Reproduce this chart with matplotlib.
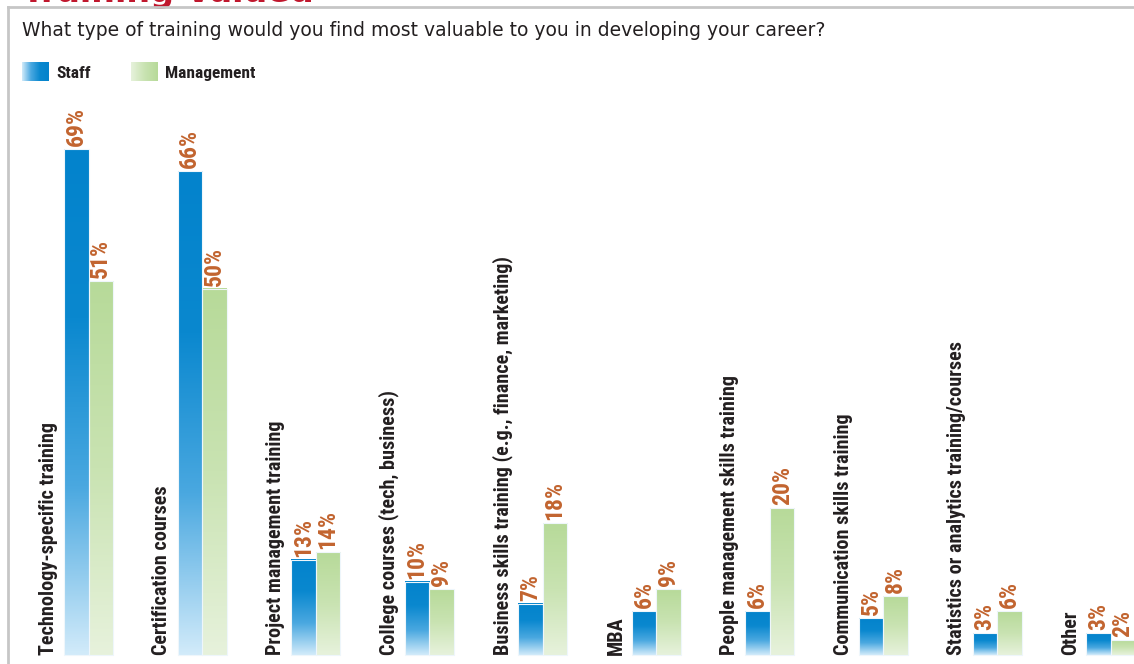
import matplotlib
matplotlib.use("Agg")
import matplotlib.pyplot as plt
import numpy as np
from matplotlib.colors import LinearSegmentedColormap

categories = [
    "Technology-specific training",
    "Certification courses",
    "Project management training",
    "College courses (tech, business)",
    "Business skills training (e.g., finance, marketing)",
    "MBA",
    "People management skills training",
    "Communication skills training",
    "Statistics or analytics training/courses",
    "Other",
]
staff = [69, 66, 13, 10, 7, 6, 6, 5, 3, 3]
management = [51, 50, 14, 9, 18, 9, 20, 8, 6, 2]

question = "What type of training would you find most valuable to you in developing your career?"
headline = "Training Valued"

NARROW = ["Roboto Condensed", "Liberation Sans Narrow", "Liberation Sans", "DejaVu Sans"]
LABEL_COLOR = "#c2642f"
TEXT_COLOR = "#231f20"

staff_cmap = LinearSegmentedColormap.from_list("staff", ["#d2ebfa", "#4aa8e0", "#0a88cf", "#0383cc"])
mgmt_cmap = LinearSegmentedColormap.from_list("mgmt", ["#e7f2dc", "#c9e3b2", "#b7da99"])
grad = np.linspace(0, 1, 256).reshape(-1, 1)

fig = plt.figure(figsize=(11.34, 6.64), dpi=100)
ax = fig.add_axes([0, 0, 1, 1])
ax.axis("off")

width = 0.216
x = np.arange(len(categories))


def gradient_bars(xs, values, cmap):
    bars = ax.bar(xs, values, width=width, align="edge", color="none",
                  edgecolor="#eef6fb", linewidth=0.8, zorder=3)
    for bar in bars:
        x0, y0 = bar.get_x(), bar.get_y()
        ax.imshow(grad, cmap=cmap, origin="lower", aspect="auto", zorder=2,
                  extent=(x0, x0 + bar.get_width(), y0, y0 + bar.get_height()))
    return bars


staff_bars = gradient_bars(x, staff, staff_cmap)
mgmt_bars = gradient_bars(x + width, management, mgmt_cmap)

for bars, values in ((staff_bars, staff), (mgmt_bars, management)):
    for bar, v in zip(bars, values):
        ax.text(bar.get_x() + bar.get_width() / 2, v + 0.4, f"{v}%",
                rotation=90, ha="center", va="bottom", fontsize=17,
                fontweight="bold", color=LABEL_COLOR, family=NARROW)

for xi, name in zip(x, categories):
    ax.text(xi - 0.14, 0, name, rotation=90, ha="center", va="bottom",
            fontsize=14.5, fontweight="bold", color=TEXT_COLOR, family=NARROW)

ax.set_xlim(-0.5636, 9.422)
ax.set_ylim(-1.228, 89.36)

# frame, question and legend
fig.add_artist(plt.Line2D([8 / 1134, 8 / 1134], [0, 1 - 7 / 664], color="#c6c6c6", lw=2))
fig.add_artist(plt.Line2D([8 / 1134, 1], [1 - 7 / 664, 1 - 7 / 664], color="#c6c6c6", lw=2))
fig.text(22 / 1134, 1 - 2 / 664, headline, color="#c0172d", fontsize=24,
         fontweight="bold", va="baseline", ha="left", zorder=0)
fig.text(22 / 1134, 1 - 36 / 664, question, color=TEXT_COLOR, fontsize=13.5,
         va="baseline", ha="left")

legend_items = [("Staff", staff_cmap, 22), ("Management", mgmt_cmap, 131)]
for name, cmap, left in legend_items:
    lax = fig.add_axes([left / 1134, 1 - 81 / 664, 27 / 1134, 19 / 664])
    lax.imshow(grad.T, cmap=cmap, aspect="auto")
    lax.axis("off")
    fig.text((left + 34) / 1134, 1 - 78 / 664, name, color=TEXT_COLOR, fontsize=12.5,
             fontweight="bold", family=NARROW, va="baseline", ha="left")

fig.savefig("out.png", dpi=100)
